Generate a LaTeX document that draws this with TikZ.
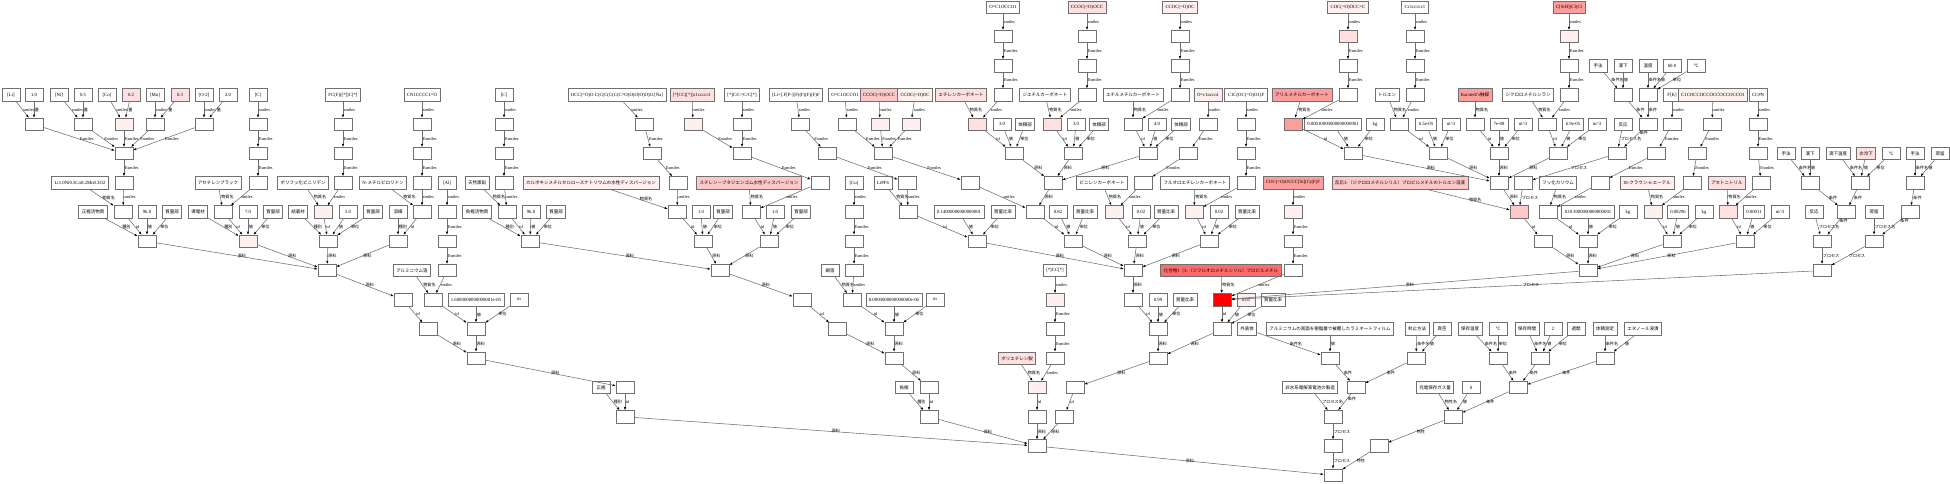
\documentclass[tikz,border=0pt]{standalone}
\usepackage{fontspec}
\setmainfont{Liberation Serif}[Scale=1.06]
\newfontfamily\jpfont{Noto Sans CJK JP}
\usepackage{tikz}
\usetikzlibrary{arrows.meta}
% Japanese characters switch to the CJK font
\XeTeXinterchartokenstate=1
\chardef\JPclass=7
\newcount\jpc
\def\setjprange#1#2{\jpc=#1 \loop\XeTeXcharclass\jpc=\JPclass\ifnum\jpc<#2 \advance\jpc by 1 \repeat}
\setjprange{"3000}{"30FF}
\setjprange{"4E00}{"9FFF}
\setjprange{"FF00}{"FFEF}
\XeTeXcharclass"2103=\JPclass
\XeTeXinterchartoks 0 \JPclass = {\jpfont}
\XeTeXinterchartoks 4095 \JPclass = {\jpfont}
\XeTeXinterchartoks \JPclass 0 = {\rmfamily}
\definecolor{KGLine}{HTML}{707070}
\definecolor{KGEdge}{HTML}{6E6E6E}
\definecolor{KGPinkA}{HTML}{FFF0F0}
\definecolor{KGPinkB}{HTML}{FFE0E0}
\definecolor{KGPinkC}{HTML}{FFC8C8}
\definecolor{KGPinkD}{HTML}{FF9C9C}
\definecolor{KGPinkE}{HTML}{FF6A6A}
\definecolor{KGRed}{HTML}{FF0000}
\newcommand\kgfont{\fontsize{4.5}{5}\selectfont}
\newcommand\kglabfont{\fontsize{4.1}{4.5}\selectfont}
\newcommand\esm{Esmiles}
\tikzset{
  kgnode/.style={draw=KGLine, line width=0.7pt, fill=white, minimum width=18pt,
    minimum height=12.5pt, inner xsep=3pt, inner ysep=1pt, font=\kgfont},
  kgpinkA/.style={kgnode, fill=KGPinkA},
  kgpinkB/.style={kgnode, fill=KGPinkB},
  kgpinkC/.style={kgnode, fill=KGPinkC},
  kgpinkD/.style={kgnode, fill=KGPinkD},
  kgpinkE/.style={kgnode, fill=KGPinkE},
  kgred/.style={kgnode, fill=KGRed},
  kgedge/.style={-{Latex[length=3pt,width=2.4pt,color=black]}, draw=KGEdge, line width=0.55pt},
  kglab/.style={midway, anchor=west, inner sep=0.6pt, font=\kglabfont}
}
\begin{document}
\begin{tikzpicture}[x=1pt, y=-29.25pt]
  \useasboundingbox (0,-0.25) rectangle (1950,16.263);

  % positive active material
  \node[kgnode] (liS) at (11,3) {[Li]};
  \node[kgnode] (liQ) at (34,3) {1.0};
  \node[kgnode] (niS) at (59,3) {[Ni]};
  \node[kgnode] (niQ) at (83,3) {0.5};
  \node[kgnode] (coS) at (107,3) {[Co]};
  \node[kgpinkB] (coQ) at (131,3) {0.2};
  \node[kgnode] (mnS) at (155,3) {[Mn]};
  \node[kgpinkB] (mnQ) at (180,3) {0.3};
  \node[kgnode] (oS) at (204,3) {[O-2]};
  \node[kgnode] (oQ) at (228,3) {2.0};
  \node[kgnode] (li4) at (34,4) {};
  \node[kgnode] (ni4) at (83,4) {};
  \node[kgpinkA] (co4) at (124,4) {};
  \node[kgnode] (mn4) at (155,4) {};
  \node[kgnode] (o4) at (204,4) {};
  \node[kgnode] (ncm5) at (124,5) {};
  \node[kgnode] (ncmName) at (80,6) {Li1.0Ni0.5Co0.2Mn0.3O2};
  \node[kgnode] (ncm6) at (124,6) {};
  \node[kgnode] (catType) at (93,7) {正極活物質};
  \node[kgnode] (ncm7) at (123,7) {};
  \node[kgnode] (catVal) at (147,7) {96.0};
  \node[kgnode] (catUnit) at (172,7) {質量部};
  \node[kgnode] (cat8) at (147,8) {};

  % conductive agent
  \node[kgnode] (cS) at (258,3) {[C]};
  \node[kgnode] (c4) at (258,4) {};
  \node[kgnode] (c5) at (258,5) {};
  \node[kgnode] (abName) at (218,6) {アセチレンブラック};
  \node[kgnode] (c6) at (258,6) {};
  \node[kgnode] (condType) at (198,7) {導電材};
  \node[kgnode] (ab7) at (223,7) {};
  \node[kgnode] (condVal) at (248,7) {7.0};
  \node[kgnode] (condUnit) at (273,7) {質量部};
  \node[kgpinkA] (cond8) at (248,8) {};

  % binder
  \node[kgnode] (pvS) at (343,3) {FC(F)([*])C[*]};
  \node[kgnode] (pv4) at (343,4) {};
  \node[kgnode] (pv5) at (343,5) {};
  \node[kgnode] (pvName) at (303,6) {ポリフッ化ビニリデン};
  \node[kgnode] (pv6) at (343,6) {};
  \node[kgnode] (bindType) at (298,7) {結着材};
  \node[kgpinkA] (pv7) at (323,7) {};
  \node[kgnode] (bindVal) at (348,7) {5.0};
  \node[kgnode] (bindUnit) at (373,7) {質量部};
  \node[kgnode] (bind8) at (328,8) {};

  % solvent NMP
  \node[kgnode] (nmpS) at (422,3) {CN1CCCC1=O};
  \node[kgnode] (nmp4) at (422,4) {};
  \node[kgnode] (nmp5) at (422,5) {};
  \node[kgnode] (nmpName) at (383,6) {N-メチルピロリドン};
  \node[kgnode] (nmp6) at (422,6) {};
  \node[kgnode] (solvType) at (398,7) {溶媒};
  \node[kgnode] (nmp7) at (422,7) {};
  \node[kgnode] (solv8) at (398,8) {};

  % aluminium foil
  \node[kgnode] (alS) at (447,6) {[Al]};
  \node[kgnode] (al7) at (447,7) {};
  \node[kgnode] (al8) at (447,8) {};
  \node[kgnode] (alName) at (412,9) {アルミニウム箔};
  \node[kgnode] (al9) at (447,9) {};
  \node[kgnode] (mix9) at (327,9) {};
  \node[kgnode] (mix10) at (403,10) {};
  \node[kgnode] (alfoil10) at (433,10) {};
  \node[kgnode] (alVal) at (476,10) {1.6000000000000001e-05};
  \node[kgnode] (alUnit) at (519,10) {m};
  \node[kgnode] (mix11) at (428,11) {};
  \node[kgnode] (foil11) at (476,11) {};
  \node[kgnode] (cat12) at (476,12) {};
  \node[kgnode] (posType) at (601,13) {正極};
  \node[kgnode] (cat13) at (625,13) {};
  \node[kgnode] (cat14) at (625,14) {};

  % negative active material
  \node[kgnode] (gS) at (504,3) {[C]};
  \node[kgnode] (g4) at (504,4) {};
  \node[kgnode] (g5) at (504,5) {};
  \node[kgnode] (gName) at (477,6) {天然黒鉛};
  \node[kgnode] (g6) at (504,6) {};
  \node[kgnode] (negType) at (477,7) {負極活物質};
  \node[kgnode] (g7) at (507,7) {};
  \node[kgnode] (negVal) at (531,7) {96.0};
  \node[kgnode] (negUnit) at (556,7) {質量部};
  \node[kgnode] (neg8) at (530,8) {};

  % CMC
  \node[kgnode] (cmcS) at (617,3) {OCC(=O)O.C(C(C(C(C(C=O)O)O)O)O)O.[Na]};
  \node[kgnode] (cmc4) at (644,4) {};
  \node[kgnode] (cmc5) at (652,5) {};
  \node[kgpinkA] (cmcName) at (591,6) {カルボキシメチルセルロースナトリウムの水性ディスパージョン};
  \node[kgnode] (cmc6) at (678,6) {};
  \node[kgnode] (cmc7) at (677,7) {};
  \node[kgnode] (cmcVal) at (701,7) {1.0};
  \node[kgnode] (cmcUnit) at (723,7) {質量部};
  \node[kgnode] (cmc8) at (703,8) {};

  % SBR
  \node[kgpinkB] (sbrS1) at (692,3) {[*]CC([*])c1ccccc1};
  \node[kgnode] (sbrS2) at (742,3) {[*]C/C=C/C[*]};
  \node[kgpinkA] (sbr4a) at (693,4) {};
  \node[kgnode] (sbr4b) at (742,4) {};
  \node[kgnode] (sbr5) at (742,5) {};
  \node[kgpinkC] (sbrName) at (749,6) {スチレン－ブタジエンゴム水性ディスパージョン};
  \node[kgnode] (sbr6) at (820,6) {};
  \node[kgnode] (sbr7) at (751,7) {};
  \node[kgnode] (sbrVal) at (775,7) {1.0};
  \node[kgnode] (sbrUnit) at (801,7) {質量部};
  \node[kgnode] (sbr8) at (769,8) {};

  % copper foil
  \node[kgnode] (cuS) at (854,6) {[Cu]};
  \node[kgnode] (cu7) at (854,7) {};
  \node[kgnode] (cu8) at (854,8) {};
  \node[kgnode] (cuName) at (830,9) {銅箔};
  \node[kgnode] (cu9) at (854,9) {};
  \node[kgnode] (nmix9) at (720,9) {};
  \node[kgnode] (nmix10) at (802,10) {};
  \node[kgnode] (cufoil10) at (852,10) {};
  \node[kgnode] (cuVal) at (894,10) {8.0000000000000000e-06};
  \node[kgnode] (cuUnit) at (935,10) {m};
  \node[kgnode] (nmix11) at (837,11) {};
  \node[kgnode] (cufoil11) at (894,11) {};
  \node[kgnode] (neg12) at (894,12) {};
  \node[kgnode] (negEType) at (904,13) {負極};
  \node[kgnode] (neg13) at (929,13) {};
  \node[kgnode] (neg14) at (929,14) {};

  % LiPF6
  \node[kgnode] (lpS) at (796,3) {[Li+].F[P-](F)(F)(F)(F)F};
  \node[kgnode] (lp4) at (800,4) {};
  \node[kgnode] (lp5) at (827,5) {};
  \node[kgnode] (lpName) at (883,6) {LiPF6};
  \node[kgnode] (lp6) at (907,6) {};
  \node[kgnode] (lp7) at (908,7) {};
  \node[kgnode] (lpVal) at (959,7) {0.14000000000000001};
  \node[kgnode] (lpUnit) at (1003,7) {質量比率};
  \node[kgnode] (lp8) at (977,8) {};

  % solvent mixture
  \node[kgnode] (ecS2) at (845,3) {O=C1OCCO1};
  \node[kgpinkC] (deS2) at (879,3) {CCOC(=O)OCC};
  \node[kgpinkA] (emS2) at (915,3) {CCOC(=O)OC};
  \node[kgnode] (ec4b) at (847,4) {};
  \node[kgpinkA] (de4b) at (880,4) {};
  \node[kgpinkA] (em4b) at (911,4) {};
  \node[kgnode] (solv5) at (883,5) {};
  \node[kgnode] (solv6) at (970,6) {};
  \node[kgnode] (ecS) at (1003,0) {O=C1OCCO1};
  \node[kgpinkB] (deS) at (1087,0) {CCOC(=O)OCC};
  \node[kgpinkA] (emS) at (1180,0) {CCOC(=O)OC};
  \node[kgnode] (ec1) at (1003,1) {};
  \node[kgnode] (de1) at (1087,1) {};
  \node[kgnode] (em1) at (1180,1) {};
  \node[kgnode] (ec2) at (1003,2) {};
  \node[kgnode] (de2) at (1087,2) {};
  \node[kgnode] (em2) at (1180,2) {};
  \node[kgpinkB] (ecName) at (961,3) {エチレンカーボネート};
  \node[kgnode] (ec3) at (1003,3) {};
  \node[kgnode] (deName) at (1045,3) {ジエチルカーボネート};
  \node[kgnode] (de3) at (1087,3) {};
  \node[kgnode] (emName) at (1133,3) {エチルメチルカーボネート};
  \node[kgnode] (em3) at (1180,3) {};
  \node[kgpinkB] (ec4) at (977,4) {};
  \node[kgnode] (ecVal) at (1002,4) {3.0};
  \node[kgnode] (ecUnit) at (1025,4) {体積部};
  \node[kgpinkB] (de4) at (1052,4) {};
  \node[kgnode] (deVal) at (1076,4) {3.0};
  \node[kgnode] (deUnit) at (1099,4) {体積部};
  \node[kgnode] (em4) at (1133,4) {};
  \node[kgnode] (emVal) at (1157,4) {4.0};
  \node[kgnode] (emUnit) at (1181,4) {体積部};
  \node[kgnode] (ec5) at (1014,5) {};
  \node[kgnode] (de5) at (1073,5) {};
  \node[kgnode] (em5) at (1148,5) {};
  \node[kgnode] (sm6) at (1053,6) {};
  \node[kgnode] (sm7) at (1035,7) {};
  \node[kgnode] (svVal) at (1058,7) {0.82};
  \node[kgnode] (svUnit) at (1085,7) {質量比率};
  \node[kgnode] (sm8) at (1073,8) {};

  % VC and FEC
  \node[kgpinkA] (vcS) at (1208,3) {O=c1occo1};
  \node[kgnode] (vc4) at (1208,4) {};
  \node[kgnode] (vc5) at (1188,5) {};
  \node[kgnode] (vcName) at (1102,6) {ビニレンカーボネート};
  \node[kgnode] (vc6) at (1143,6) {};
  \node[kgpinkA] (vc7) at (1114,7) {};
  \node[kgnode] (vcVal) at (1141,7) {0.02};
  \node[kgnode] (vcUnit) at (1166,7) {質量比率};
  \node[kgnode] (vc8) at (1137,8) {};
  \node[kgnode] (fecS) at (1246,3) {C1C(OC(=O)O1)F};
  \node[kgnode] (fec4) at (1246,4) {};
  \node[kgnode] (fec5) at (1246,5) {};
  \node[kgnode] (fecName) at (1195,6) {フルオロエチレンカーボネート};
  \node[kgnode] (fec6) at (1246,6) {};
  \node[kgpinkA] (fec7) at (1194,7) {};
  \node[kgnode] (fecVal) at (1219,7) {0.02};
  \node[kgnode] (fecUnit) at (1247,7) {質量比率};
  \node[kgnode] (fec8) at (1209,8) {};

  % electrolyte
  \node[kgnode] (el9) at (1133,9) {};
  \node[kgnode] (el10) at (1133,10) {};
  \node[kgnode] (elVal) at (1158,10) {0.99};
  \node[kgnode] (elUnit) at (1185,10) {質量比率};
  \node[kgnode] (el11) at (1158,11) {};
  \node[kgpinkE] (addName) at (1221,9) {化合物1（3-（ジフルオロメチルシリル）プロピルメチル};
  \node[kgred] (add10) at (1222,10) {};
  \node[kgpinkA] (addVal) at (1246,10) {0.01};
  \node[kgnode] (addUnit) at (1273,10) {質量比率};
  \node[kgnode] (add11) at (1222,11) {};
  \node[kgnode] (el12) at (1158,12) {};
  \node[kgnode] (el13) at (1075,13) {};
  \node[kgnode] (el14) at (1064,14) {};

  % separator
  \node[kgnode] (peS) at (1055,9) {[*]CC[*]};
  \node[kgpinkA] (pe10) at (1055,10) {};
  \node[kgnode] (pe11) at (1055,11) {};
  \node[kgpinkB] (peName) at (1017,12) {ポリエチレン製};
  \node[kgnode] (pe12) at (1055,12) {};
  \node[kgpinkA] (pe13) at (1037,13) {};
  \node[kgnode] (pe14) at (1037,14) {};
  \node[kgnode] (cell15) at (1037,15) {};
  \node[kgnode] (final16) at (1333,16) {};

  % additive synthesis, step 1
  \node[kgpinkA] (amcS) at (1348,0) {COC(=O)OCC=C};
  \node[kgpinkB] (amc1) at (1348,1) {};
  \node[kgnode] (amc2) at (1348,2) {};
  \node[kgpinkD] (amcName) at (1302,3) {アリルメチルカーボネート};
  \node[kgnode] (amc3) at (1348,3) {};
  \node[kgpinkD] (amc4) at (1293,4) {};
  \node[kgnode] (amcVal) at (1333,4) {0.00010000000000000001};
  \node[kgnode] (amcUnit) at (1375,4) {kg};
  \node[kgnode] (amc5) at (1353,5) {};
  \node[kgnode] (tolS) at (1415,0) {Cc1ccccc1};
  \node[kgnode] (tol1) at (1415,1) {};
  \node[kgnode] (tol2) at (1415,2) {};
  \node[kgnode] (tolName) at (1387,3) {トルエン};
  \node[kgnode] (tol3) at (1415,3) {};
  \node[kgnode] (tol4) at (1399,4) {};
  \node[kgnode] (tolVal) at (1426,4) {6.5e-05};
  \node[kgnode] (tolUnit) at (1451,4) {m\textasciicircum 3};
  \node[kgnode] (tol5) at (1438,5) {};
  \node[kgpinkD] (kaName) at (1475,3) {Karstedt's触媒};
  \node[kgnode] (ka4) at (1475,4) {};
  \node[kgnode] (kaVal) at (1499,4) {7e-08};
  \node[kgnode] (kaUnit) at (1523,4) {m\textasciicircum 3};
  \node[kgnode] (ka5) at (1499,5) {};
  \node[kgpinkD] (dcS) at (1569,0) {C[SiH](Cl)Cl};
  \node[kgpinkA] (dc1) at (1569,1) {};
  \node[kgnode] (dc2) at (1569,2) {};
  \node[kgnode] (dcName) at (1528,3) {ジクロロメチルシラン};
  \node[kgnode] (dc3) at (1569,3) {};
  \node[kgnode] (dc4) at (1547,4) {};
  \node[kgnode] (dcVal) at (1573,4) {6.9e-05};
  \node[kgnode] (dcUnit) at (1597,4) {m\textasciicircum 3};
  \node[kgnode] (dc5) at (1558,5) {};
  \node[kgnode] (r1Key1) at (1598,2) {手法};
  \node[kgnode] (r1Val1) at (1623,2) {滴下};
  \node[kgnode] (r1Key2) at (1648,2) {温度};
  \node[kgnode] (r1Val2) at (1672,2) {60.0};
  \node[kgnode] (r1Unit2) at (1696,2) {℃};
  \node[kgnode] (r1c1) at (1623,3) {};
  \node[kgnode] (r1c2) at (1648,3) {};
  \node[kgnode] (r1Name) at (1623,4) {反応};
  \node[kgnode] (r1cond) at (1648,4) {};
  \node[kgnode] (r1proc) at (1617,5) {};
  \node[kgnode] (int6) at (1499,6) {};
  \node[kgnode] (r1p6) at (1523,6) {};
  \node[kgpinkC] (intName) at (1400,6) {反応3-（ジクロロメチルシリル）プロピルメチルのトルエン溶液};
  \node[kgpinkC] (int7) at (1519,7) {};
  \node[kgnode] (int8) at (1543,8) {};

  % additive synthesis, step 2
  \node[kgnode] (kfS) at (1672,3) {F[K]};
  \node[kgnode] (kf4) at (1672,4) {};
  \node[kgnode] (kf5) at (1656,5) {};
  \node[kgnode] (kfName) at (1558,6) {フッ化カリウム};
  \node[kgnode] (kf6) at (1600,6) {};
  \node[kgnode] (kf7) at (1548,7) {};
  \node[kgnode] (kfVal) at (1588,7) {0.013000000000000001};
  \node[kgnode] (kfUnit) at (1628,7) {kg};
  \node[kgnode] (kf8) at (1588,8) {};
  \node[kgpinkA] (crS) at (1713,3) {C1COCCOCCOCCOCCOCCO1};
  \node[kgnode] (cr4) at (1712,4) {};
  \node[kgnode] (cr5) at (1697,5) {};
  \node[kgpinkA] (crName) at (1647,6) {18-クラウン-6-エーテル};
  \node[kgnode] (cr6) at (1692,6) {};
  \node[kgpinkA] (cr7) at (1653,7) {};
  \node[kgnode] (crVal) at (1678,7) {0.00296};
  \node[kgnode] (crUnit) at (1704,7) {kg};
  \node[kgnode] (cr8) at (1672,8) {};
  \node[kgnode] (acS) at (1758,3) {CC\#N};
  \node[kgnode] (ac4) at (1758,4) {};
  \node[kgnode] (ac5) at (1758,5) {};
  \node[kgpinkB] (acName) at (1727,6) {アセトニトリル};
  \node[kgnode] (ac6) at (1761,6) {};
  \node[kgpinkB] (ac7) at (1728,7) {};
  \node[kgnode] (acVal) at (1754,7) {0.00011};
  \node[kgnode] (acUnit) at (1780,7) {m\textasciicircum 3};
  \node[kgnode] (ac8) at (1745,8) {};
  \node[kgnode] (r2Key1) at (1786,5) {手法};
  \node[kgnode] (r2Val1) at (1810,5) {滴下};
  \node[kgnode] (r2Key2) at (1838,5) {滴下温度};
  \node[kgpinkB] (r2Val2) at (1866,5) {氷冷下};
  \node[kgnode] (r2Unit2) at (1891,5) {℃};
  \node[kgnode] (r3Key) at (1915,5) {手法};
  \node[kgnode] (r3Val) at (1940,5) {蒸留};
  \node[kgnode] (r2c1) at (1810,6) {};
  \node[kgnode] (r2c2) at (1860,6) {};
  \node[kgnode] (r3c) at (1915,6) {};
  \node[kgnode] (r2Name) at (1814,7) {反応};
  \node[kgnode] (r2cond) at (1846,7) {};
  \node[kgnode] (r3Name) at (1874,7) {蒸留};
  \node[kgnode] (r3cond) at (1910,7) {};
  \node[kgnode] (r2proc) at (1822,8) {};
  \node[kgnode] (r3proc) at (1874,8) {};
  \node[kgnode] (r23) at (1822,9) {};
  \node[kgnode] (prod9) at (1588,9) {};
  \node[kgpinkD] (addS) at (1293,6) {COC(=O)OCCC[Si](C)(F)F};
  \node[kgpinkA] (addS7) at (1293,7) {};
  \node[kgnode] (addS8) at (1293,8) {};
  \node[kgnode] (addS9) at (1293,9) {};

  % cell manufacture and evaluation
  \node[kgnode] (bKey1) at (1247,11) {外装体};
  \node[kgnode] (bVal1) at (1330,11) {アルミニウムの両面を樹脂層で被覆したラミネートフィルム};
  \node[kgnode] (bKey2) at (1417,11) {封止方法};
  \node[kgnode] (bVal2) at (1442,11) {真空};
  \node[kgnode] (sKey1) at (1470,11) {保存温度};
  \node[kgnode] (sUnit1) at (1498,11) {℃};
  \node[kgnode] (sKey2) at (1527,11) {保存時間};
  \node[kgnode] (sVal2) at (1553,11) {2};
  \node[kgnode] (sUnit2) at (1576,11) {週間};
  \node[kgnode] (mKey) at (1605,11) {体積測定};
  \node[kgnode] (mVal) at (1643,11) {エタノール浸漬};
  \node[kgnode] (bc1) at (1330,12) {};
  \node[kgnode] (bc2) at (1416,12) {};
  \node[kgnode] (sc1) at (1498,12) {};
  \node[kgnode] (sc2) at (1540,12) {};
  \node[kgnode] (mc) at (1605,12) {};
  \node[kgnode] (bName) at (1310,13) {非水系電解液電池の製造};
  \node[kgnode] (bcond) at (1356,13) {};
  \node[kgnode] (gasName) at (1435,13) {充電保存ガス量};
  \node[kgnode] (gasVal) at (1471,13) {0};
  \node[kgnode] (scond) at (1518,13) {};
  \node[kgnode] (bproc) at (1333,14) {};
  \node[kgnode] (gas14) at (1453,14) {};
  \node[kgnode] (bproc15) at (1333,15) {};
  \node[kgnode] (gas15) at (1379,15) {};

  % connectors: positive electrode
  \draw[kgedge] (liS) -- node[kglab]{smiles} (li4);
  \draw[kgedge] (liQ) -- node[kglab]{量} (li4);
  \draw[kgedge] (niS) -- node[kglab]{smiles} (ni4);
  \draw[kgedge] (niQ) -- node[kglab]{量} (ni4);
  \draw[kgedge] (coS) -- node[kglab]{smiles} (co4);
  \draw[kgedge] (coQ) -- node[kglab]{量} (co4);
  \draw[kgedge] (mnS) -- node[kglab]{smiles} (mn4);
  \draw[kgedge] (mnQ) -- node[kglab]{量} (mn4);
  \draw[kgedge] (oS) -- node[kglab]{smiles} (o4);
  \draw[kgedge] (oQ) -- node[kglab]{量} (o4);
  \draw[kgedge] (li4) -- node[kglab]{\esm} (ncm5);
  \draw[kgedge] (ni4) -- node[kglab]{\esm} (ncm5);
  \draw[kgedge] (co4) -- node[kglab]{\esm} (ncm5);
  \draw[kgedge] (mn4) -- node[kglab]{\esm} (ncm5);
  \draw[kgedge] (o4) -- node[kglab]{\esm} (ncm5);
  \draw[kgedge] (ncm5) -- node[kglab]{\esm} (ncm6);
  \draw[kgedge] (ncmName) -- node[kglab]{物質名} (ncm7);
  \draw[kgedge] (ncm6) -- node[kglab]{smiles} (ncm7);
  \draw[kgedge] (catType) -- node[kglab]{種別} (cat8);
  \draw[kgedge] (ncm7) -- node[kglab]{id} (cat8);
  \draw[kgedge] (catVal) -- node[kglab]{値} (cat8);
  \draw[kgedge] (catUnit) -- node[kglab]{単位} (cat8);
  \draw[kgedge] (cS) -- node[kglab]{smiles} (c4);
  \draw[kgedge] (c4) -- node[kglab]{\esm} (c5);
  \draw[kgedge] (c5) -- node[kglab]{\esm} (c6);
  \draw[kgedge] (abName) -- node[kglab]{物質名} (ab7);
  \draw[kgedge] (c6) -- node[kglab]{smiles} (ab7);
  \draw[kgedge] (condType) -- node[kglab]{種別} (cond8);
  \draw[kgedge] (ab7) -- node[kglab]{id} (cond8);
  \draw[kgedge] (condVal) -- node[kglab]{値} (cond8);
  \draw[kgedge] (condUnit) -- node[kglab]{単位} (cond8);
  \draw[kgedge] (pvS) -- node[kglab]{smiles} (pv4);
  \draw[kgedge] (pv4) -- node[kglab]{\esm} (pv5);
  \draw[kgedge] (pv5) -- node[kglab]{\esm} (pv6);
  \draw[kgedge] (pvName) -- node[kglab]{物質名} (pv7);
  \draw[kgedge] (pv6) -- node[kglab]{smiles} (pv7);
  \draw[kgedge] (bindType) -- node[kglab]{種別} (bind8);
  \draw[kgedge] (pv7) -- node[kglab]{id} (bind8);
  \draw[kgedge] (bindVal) -- node[kglab]{値} (bind8);
  \draw[kgedge] (bindUnit) -- node[kglab]{単位} (bind8);
  \draw[kgedge] (nmpS) -- node[kglab]{smiles} (nmp4);
  \draw[kgedge] (nmp4) -- node[kglab]{\esm} (nmp5);
  \draw[kgedge] (nmp5) -- node[kglab]{\esm} (nmp6);
  \draw[kgedge] (nmpName) -- node[kglab]{物質名} (nmp7);
  \draw[kgedge] (nmp6) -- node[kglab]{smiles} (nmp7);
  \draw[kgedge] (solvType) -- node[kglab]{種別} (solv8);
  \draw[kgedge] (nmp7) -- node[kglab]{id} (solv8);
  \draw[kgedge] (alS) -- node[kglab]{smiles} (al7);
  \draw[kgedge] (al7) -- node[kglab]{\esm} (al8);
  \draw[kgedge] (al8) -- node[kglab]{\esm} (al9);
  \draw[kgedge] (alName) -- node[kglab]{物質名} (alfoil10);
  \draw[kgedge] (al9) -- node[kglab]{smiles} (alfoil10);
  \draw[kgedge] (cat8) -- node[kglab]{原料} (mix9);
  \draw[kgedge] (cond8) -- node[kglab]{原料} (mix9);
  \draw[kgedge] (bind8) -- node[kglab]{原料} (mix9);
  \draw[kgedge] (solv8) -- node[kglab]{原料} (mix9);
  \draw[kgedge] (mix9) -- node[kglab]{原料} (mix10);
  \draw[kgedge] (mix10) -- node[kglab]{id} (mix11);
  \draw[kgedge] (alfoil10) -- node[kglab]{id} (foil11);
  \draw[kgedge] (alVal) -- node[kglab]{値} (foil11);
  \draw[kgedge] (alUnit) -- node[kglab]{単位} (foil11);
  \draw[kgedge] (mix11) -- node[kglab]{原料} (cat12);
  \draw[kgedge] (foil11) -- node[kglab]{原料} (cat12);
  \draw[kgedge] (cat12) -- node[kglab]{原料} (cat13);
  \draw[kgedge] (posType) -- node[kglab]{種別} (cat14);
  \draw[kgedge] (cat13) -- node[kglab]{id} (cat14);

  % connectors: negative electrode
  \draw[kgedge] (gS) -- node[kglab]{smiles} (g4);
  \draw[kgedge] (g4) -- node[kglab]{\esm} (g5);
  \draw[kgedge] (g5) -- node[kglab]{\esm} (g6);
  \draw[kgedge] (gName) -- node[kglab]{物質名} (g7);
  \draw[kgedge] (g6) -- node[kglab]{smiles} (g7);
  \draw[kgedge] (negType) -- node[kglab]{種別} (neg8);
  \draw[kgedge] (g7) -- node[kglab]{id} (neg8);
  \draw[kgedge] (negVal) -- node[kglab]{値} (neg8);
  \draw[kgedge] (negUnit) -- node[kglab]{単位} (neg8);
  \draw[kgedge] (cmcS) -- node[kglab]{smiles} (cmc4);
  \draw[kgedge] (cmc4) -- node[kglab]{\esm} (cmc5);
  \draw[kgedge] (cmc5) -- node[kglab]{\esm} (cmc6);
  \draw[kgedge] (cmcName) -- node[kglab]{物質名} (cmc7);
  \draw[kgedge] (cmc6) -- node[kglab]{smiles} (cmc7);
  \draw[kgedge] (cmc7) -- node[kglab]{id} (cmc8);
  \draw[kgedge] (cmcVal) -- node[kglab]{値} (cmc8);
  \draw[kgedge] (cmcUnit) -- node[kglab]{単位} (cmc8);
  \draw[kgedge] (sbrS1) -- node[kglab]{smiles} (sbr4a);
  \draw[kgedge] (sbrS2) -- node[kglab]{smiles} (sbr4b);
  \draw[kgedge] (sbr4a) -- node[kglab]{\esm} (sbr5);
  \draw[kgedge] (sbr4b) -- node[kglab]{\esm} (sbr5);
  \draw[kgedge] (sbr5) -- node[kglab]{\esm} (sbr6);
  \draw[kgedge] (sbrName) -- node[kglab]{物質名} (sbr7);
  \draw[kgedge] (sbr6) -- node[kglab]{smiles} (sbr7);
  \draw[kgedge] (sbr7) -- node[kglab]{id} (sbr8);
  \draw[kgedge] (sbrVal) -- node[kglab]{値} (sbr8);
  \draw[kgedge] (sbrUnit) -- node[kglab]{単位} (sbr8);
  \draw[kgedge] (cuS) -- node[kglab]{smiles} (cu7);
  \draw[kgedge] (cu7) -- node[kglab]{\esm} (cu8);
  \draw[kgedge] (cu8) -- node[kglab]{\esm} (cu9);
  \draw[kgedge] (cuName) -- node[kglab]{物質名} (cufoil10);
  \draw[kgedge] (cu9) -- node[kglab]{smiles} (cufoil10);
  \draw[kgedge] (neg8) -- node[kglab]{原料} (nmix9);
  \draw[kgedge] (cmc8) -- node[kglab]{原料} (nmix9);
  \draw[kgedge] (sbr8) -- node[kglab]{原料} (nmix9);
  \draw[kgedge] (nmix9) -- node[kglab]{原料} (nmix10);
  \draw[kgedge] (nmix10) -- node[kglab]{id} (nmix11);
  \draw[kgedge] (cufoil10) -- node[kglab]{id} (cufoil11);
  \draw[kgedge] (cuVal) -- node[kglab]{値} (cufoil11);
  \draw[kgedge] (cuUnit) -- node[kglab]{単位} (cufoil11);
  \draw[kgedge] (nmix11) -- node[kglab]{原料} (neg12);
  \draw[kgedge] (cufoil11) -- node[kglab]{原料} (neg12);
  \draw[kgedge] (neg12) -- node[kglab]{原料} (neg13);
  \draw[kgedge] (negEType) -- node[kglab]{種別} (neg14);
  \draw[kgedge] (neg13) -- node[kglab]{id} (neg14);

  % connectors: electrolyte
  \draw[kgedge] (lpS) -- node[kglab]{smiles} (lp4);
  \draw[kgedge] (lp4) -- node[kglab]{\esm} (lp5);
  \draw[kgedge] (lp5) -- node[kglab]{\esm} (lp6);
  \draw[kgedge] (lpName) -- node[kglab]{物質名} (lp7);
  \draw[kgedge] (lp6) -- node[kglab]{smiles} (lp7);
  \draw[kgedge] (lp7) -- node[kglab]{id} (lp8);
  \draw[kgedge] (lpVal) -- node[kglab]{値} (lp8);
  \draw[kgedge] (lpUnit) -- node[kglab]{単位} (lp8);
  \draw[kgedge] (ecS2) -- node[kglab]{smiles} (ec4b);
  \draw[kgedge] (deS2) -- node[kglab]{smiles} (de4b);
  \draw[kgedge] (emS2) -- node[kglab]{smiles} (em4b);
  \draw[kgedge] (ec4b) -- node[kglab]{\esm} (solv5);
  \draw[kgedge] (de4b) -- node[kglab]{\esm} (solv5);
  \draw[kgedge] (em4b) -- node[kglab]{\esm} (solv5);
  \draw[kgedge] (solv5) -- node[kglab]{\esm} (solv6);
  \draw[kgedge] (ecS) -- node[kglab]{smiles} (ec1);
  \draw[kgedge] (ec1) -- node[kglab]{\esm} (ec2);
  \draw[kgedge] (ec2) -- node[kglab]{\esm} (ec3);
  \draw[kgedge] (deS) -- node[kglab]{smiles} (de1);
  \draw[kgedge] (de1) -- node[kglab]{\esm} (de2);
  \draw[kgedge] (de2) -- node[kglab]{\esm} (de3);
  \draw[kgedge] (emS) -- node[kglab]{smiles} (em1);
  \draw[kgedge] (em1) -- node[kglab]{\esm} (em2);
  \draw[kgedge] (em2) -- node[kglab]{\esm} (em3);
  \draw[kgedge] (ecName) -- node[kglab]{物質名} (ec4);
  \draw[kgedge] (ec3) -- node[kglab]{smiles} (ec4);
  \draw[kgedge] (deName) -- node[kglab]{物質名} (de4);
  \draw[kgedge] (de3) -- node[kglab]{smiles} (de4);
  \draw[kgedge] (emName) -- node[kglab]{物質名} (em4);
  \draw[kgedge] (em3) -- node[kglab]{smiles} (em4);
  \draw[kgedge] (ec4) -- node[kglab]{id} (ec5);
  \draw[kgedge] (ecVal) -- node[kglab]{値} (ec5);
  \draw[kgedge] (ecUnit) -- node[kglab]{単位} (ec5);
  \draw[kgedge] (de4) -- node[kglab]{id} (de5);
  \draw[kgedge] (deVal) -- node[kglab]{値} (de5);
  \draw[kgedge] (deUnit) -- node[kglab]{単位} (de5);
  \draw[kgedge] (em4) -- node[kglab]{id} (em5);
  \draw[kgedge] (emVal) -- node[kglab]{値} (em5);
  \draw[kgedge] (emUnit) -- node[kglab]{単位} (em5);
  \draw[kgedge] (ec5) -- node[kglab]{原料} (sm6);
  \draw[kgedge] (de5) -- node[kglab]{原料} (sm6);
  \draw[kgedge] (em5) -- node[kglab]{原料} (sm6);
  \draw[kgedge] (solv6) -- node[kglab]{smiles} (sm7);
  \draw[kgedge] (sm6) -- node[kglab]{原料} (sm7);
  \draw[kgedge] (sm7) -- node[kglab]{id} (sm8);
  \draw[kgedge] (svVal) -- node[kglab]{値} (sm8);
  \draw[kgedge] (svUnit) -- node[kglab]{単位} (sm8);
  \draw[kgedge] (vcS) -- node[kglab]{smiles} (vc4);
  \draw[kgedge] (vc4) -- node[kglab]{\esm} (vc5);
  \draw[kgedge] (vc5) -- node[kglab]{\esm} (vc6);
  \draw[kgedge] (vcName) -- node[kglab]{物質名} (vc7);
  \draw[kgedge] (vc6) -- node[kglab]{smiles} (vc7);
  \draw[kgedge] (vc7) -- node[kglab]{id} (vc8);
  \draw[kgedge] (vcVal) -- node[kglab]{値} (vc8);
  \draw[kgedge] (vcUnit) -- node[kglab]{単位} (vc8);
  \draw[kgedge] (fecS) -- node[kglab]{smiles} (fec4);
  \draw[kgedge] (fec4) -- node[kglab]{\esm} (fec5);
  \draw[kgedge] (fec5) -- node[kglab]{\esm} (fec6);
  \draw[kgedge] (fecName) -- node[kglab]{物質名} (fec7);
  \draw[kgedge] (fec6) -- node[kglab]{smiles} (fec7);
  \draw[kgedge] (fec7) -- node[kglab]{id} (fec8);
  \draw[kgedge] (fecVal) -- node[kglab]{値} (fec8);
  \draw[kgedge] (fecUnit) -- node[kglab]{単位} (fec8);
  \draw[kgedge] (lp8) -- node[kglab]{原料} (el9);
  \draw[kgedge] (sm8) -- node[kglab]{原料} (el9);
  \draw[kgedge] (vc8) -- node[kglab]{原料} (el9);
  \draw[kgedge] (fec8) -- node[kglab]{原料} (el9);
  \draw[kgedge] (el9) -- node[kglab]{原料} (el10);
  \draw[kgedge] (el10) -- node[kglab]{id} (el11);
  \draw[kgedge] (elVal) -- node[kglab]{値} (el11);
  \draw[kgedge] (elUnit) -- node[kglab]{単位} (el11);
  \draw[kgedge] (addName) -- node[kglab]{物質名} (add10);
  \draw[kgedge] (addS9) -- node[kglab]{smiles} (add10);
  \draw[kgedge] (prod9) -- node[kglab]{原料} (add10);
  \draw[kgedge] (r23) -- node[kglab]{プロセス} (add10);
  \draw[kgedge] (add10) -- node[kglab]{id} (add11);
  \draw[kgedge] (addVal) -- node[kglab]{値} (add11);
  \draw[kgedge] (addUnit) -- node[kglab]{単位} (add11);
  \draw[kgedge] (el11) -- node[kglab]{原料} (el12);
  \draw[kgedge] (add11) -- node[kglab]{原料} (el12);
  \draw[kgedge] (el12) -- node[kglab]{原料} (el13);
  \draw[kgedge] (el13) -- node[kglab]{id} (el14);
  \draw[kgedge] (peS) -- node[kglab]{smiles} (pe10);
  \draw[kgedge] (pe10) -- node[kglab]{\esm} (pe11);
  \draw[kgedge] (pe11) -- node[kglab]{\esm} (pe12);
  \draw[kgedge] (peName) -- node[kglab]{物質名} (pe13);
  \draw[kgedge] (pe12) -- node[kglab]{smiles} (pe13);
  \draw[kgedge] (pe13) -- node[kglab]{id} (pe14);
  \draw[kgedge] (cat14) -- node[kglab]{原料} (cell15);
  \draw[kgedge] (neg14) -- node[kglab]{原料} (cell15);
  \draw[kgedge] (pe14) -- node[kglab]{原料} (cell15);
  \draw[kgedge] (el14) -- node[kglab]{原料} (cell15);
  \draw[kgedge] (cell15) -- node[kglab]{原料} (final16);
  \draw[kgedge] (bproc15) -- node[kglab]{プロセス} (final16);
  \draw[kgedge] (gas15) -- node[kglab]{特性} (final16);

  % connectors: additive synthesis
  \draw[kgedge] (amcS) -- node[kglab]{smiles} (amc1);
  \draw[kgedge] (amc1) -- node[kglab]{\esm} (amc2);
  \draw[kgedge] (amc2) -- node[kglab]{\esm} (amc3);
  \draw[kgedge] (amcName) -- node[kglab]{物質名} (amc4);
  \draw[kgedge] (amc3) -- node[kglab]{smiles} (amc4);
  \draw[kgedge] (amc4) -- node[kglab]{id} (amc5);
  \draw[kgedge] (amcVal) -- node[kglab]{値} (amc5);
  \draw[kgedge] (amcUnit) -- node[kglab]{単位} (amc5);
  \draw[kgedge] (tolS) -- node[kglab]{smiles} (tol1);
  \draw[kgedge] (tol1) -- node[kglab]{\esm} (tol2);
  \draw[kgedge] (tol2) -- node[kglab]{\esm} (tol3);
  \draw[kgedge] (tolName) -- node[kglab]{物質名} (tol4);
  \draw[kgedge] (tol3) -- node[kglab]{smiles} (tol4);
  \draw[kgedge] (tol4) -- node[kglab]{id} (tol5);
  \draw[kgedge] (tolVal) -- node[kglab]{値} (tol5);
  \draw[kgedge] (tolUnit) -- node[kglab]{単位} (tol5);
  \draw[kgedge] (kaName) -- node[kglab]{物質名} (ka4);
  \draw[kgedge] (ka4) -- node[kglab]{id} (ka5);
  \draw[kgedge] (kaVal) -- node[kglab]{値} (ka5);
  \draw[kgedge] (kaUnit) -- node[kglab]{単位} (ka5);
  \draw[kgedge] (dcS) -- node[kglab]{smiles} (dc1);
  \draw[kgedge] (dc1) -- node[kglab]{\esm} (dc2);
  \draw[kgedge] (dc2) -- node[kglab]{\esm} (dc3);
  \draw[kgedge] (dcName) -- node[kglab]{物質名} (dc4);
  \draw[kgedge] (dc3) -- node[kglab]{smiles} (dc4);
  \draw[kgedge] (dc4) -- node[kglab]{id} (dc5);
  \draw[kgedge] (dcVal) -- node[kglab]{値} (dc5);
  \draw[kgedge] (dcUnit) -- node[kglab]{単位} (dc5);
  \draw[kgedge] (r1Key1) -- node[kglab]{条件名} (r1c1);
  \draw[kgedge] (r1Val1) -- node[kglab]{値} (r1c1);
  \draw[kgedge] (r1Key2) -- node[kglab]{条件名} (r1c2);
  \draw[kgedge] (r1Val2) -- node[kglab]{値} (r1c2);
  \draw[kgedge] (r1Unit2) -- node[kglab]{単位} (r1c2);
  \draw[kgedge] (r1c1) -- node[kglab]{条件} (r1cond);
  \draw[kgedge] (r1c2) -- node[kglab]{条件} (r1cond);
  \draw[kgedge] (r1Name) -- node[kglab]{プロセス名} (r1proc);
  \draw[kgedge] (r1cond) -- node[kglab, pos=0.12]{条件} (r1proc);
  \draw[kgedge] (r1proc) -- node[kglab]{プロセス} (r1p6);
  \draw[kgedge] (amc5) -- node[kglab]{原料} (int6);
  \draw[kgedge] (tol5) -- node[kglab]{原料} (int6);
  \draw[kgedge] (ka5) -- node[kglab]{原料} (int6);
  \draw[kgedge] (dc5) -- node[kglab]{原料} (int6);
  \draw[kgedge] (intName) -- node[kglab]{物質名} (int7);
  \draw[kgedge] (int6) -- node[kglab]{原料} (int7);
  \draw[kgedge] (r1p6) -- node[kglab]{プロセス} (int7);
  \draw[kgedge] (int7) -- node[kglab]{id} (int8);
  \draw[kgedge] (kfS) -- node[kglab]{smiles} (kf4);
  \draw[kgedge] (kf4) -- node[kglab]{\esm} (kf5);
  \draw[kgedge] (kf5) -- node[kglab]{\esm} (kf6);
  \draw[kgedge] (kfName) -- node[kglab]{物質名} (kf7);
  \draw[kgedge] (kf6) -- node[kglab]{smiles} (kf7);
  \draw[kgedge] (kf7) -- node[kglab]{id} (kf8);
  \draw[kgedge] (kfVal) -- node[kglab]{値} (kf8);
  \draw[kgedge] (kfUnit) -- node[kglab]{単位} (kf8);
  \draw[kgedge] (crS) -- node[kglab]{smiles} (cr4);
  \draw[kgedge] (cr4) -- node[kglab]{\esm} (cr5);
  \draw[kgedge] (cr5) -- node[kglab]{\esm} (cr6);
  \draw[kgedge] (crName) -- node[kglab]{物質名} (cr7);
  \draw[kgedge] (cr6) -- node[kglab]{smiles} (cr7);
  \draw[kgedge] (cr7) -- node[kglab]{id} (cr8);
  \draw[kgedge] (crVal) -- node[kglab]{値} (cr8);
  \draw[kgedge] (crUnit) -- node[kglab]{単位} (cr8);
  \draw[kgedge] (acS) -- node[kglab]{smiles} (ac4);
  \draw[kgedge] (ac4) -- node[kglab]{\esm} (ac5);
  \draw[kgedge] (ac5) -- node[kglab]{\esm} (ac6);
  \draw[kgedge] (acName) -- node[kglab]{物質名} (ac7);
  \draw[kgedge] (ac6) -- node[kglab]{smiles} (ac7);
  \draw[kgedge] (ac7) -- node[kglab]{id} (ac8);
  \draw[kgedge] (acVal) -- node[kglab]{値} (ac8);
  \draw[kgedge] (acUnit) -- node[kglab]{単位} (ac8);
  \draw[kgedge] (r2Key1) -- node[kglab]{条件名} (r2c1);
  \draw[kgedge] (r2Val1) -- node[kglab]{値} (r2c1);
  \draw[kgedge] (r2Key2) -- node[kglab]{条件名} (r2c2);
  \draw[kgedge] (r2Val2) -- node[kglab]{値} (r2c2);
  \draw[kgedge] (r2Unit2) -- node[kglab]{単位} (r2c2);
  \draw[kgedge] (r3Key) -- node[kglab]{条件名} (r3c);
  \draw[kgedge] (r3Val) -- node[kglab]{値} (r3c);
  \draw[kgedge] (r2c1) -- node[kglab]{条件} (r2cond);
  \draw[kgedge] (r2c2) -- node[kglab]{条件} (r2cond);
  \draw[kgedge] (r3c) -- node[kglab]{条件} (r3cond);
  \draw[kgedge] (r2Name) -- node[kglab]{プロセス名} (r2proc);
  \draw[kgedge] (r2cond) -- node[kglab, pos=0.15]{条件} (r2proc);
  \draw[kgedge] (r3Name) -- node[kglab]{プロセス名} (r3proc);
  \draw[kgedge] (r3cond) -- node[kglab, pos=0.12]{条件} (r3proc);
  \draw[kgedge] (r2proc) -- node[kglab]{プロセス} (r23);
  \draw[kgedge] (r3proc) -- node[kglab]{プロセス} (r23);
  \draw[kgedge] (int8) -- node[kglab]{原料} (prod9);
  \draw[kgedge] (kf8) -- node[kglab]{原料} (prod9);
  \draw[kgedge] (cr8) -- node[kglab]{原料} (prod9);
  \draw[kgedge] (ac8) -- node[kglab]{原料} (prod9);
  \draw[kgedge] (addS) -- node[kglab]{smiles} (addS7);
  \draw[kgedge] (addS7) -- node[kglab]{\esm} (addS8);
  \draw[kgedge] (addS8) -- node[kglab]{\esm} (addS9);

  % connectors: cell manufacture and evaluation
  \draw[kgedge] (bKey1) -- node[kglab]{条件名} (bc1);
  \draw[kgedge] (bVal1) -- node[kglab]{値} (bc1);
  \draw[kgedge] (bKey2) -- node[kglab]{条件名} (bc2);
  \draw[kgedge] (bVal2) -- node[kglab]{値} (bc2);
  \draw[kgedge] (sKey1) -- node[kglab]{条件名} (sc1);
  \draw[kgedge] (sUnit1) -- node[kglab]{単位} (sc1);
  \draw[kgedge] (sKey2) -- node[kglab]{条件名} (sc2);
  \draw[kgedge] (sVal2) -- node[kglab]{値} (sc2);
  \draw[kgedge] (sUnit2) -- node[kglab]{単位} (sc2);
  \draw[kgedge] (mKey) -- node[kglab]{条件名} (mc);
  \draw[kgedge] (mVal) -- node[kglab]{値} (mc);
  \draw[kgedge] (bc1) -- node[kglab]{条件} (bcond);
  \draw[kgedge] (bc2) -- node[kglab]{条件} (bcond);
  \draw[kgedge] (sc1) -- node[kglab]{条件} (scond);
  \draw[kgedge] (sc2) -- node[kglab]{条件} (scond);
  \draw[kgedge] (mc) -- node[kglab]{条件} (scond);
  \draw[kgedge] (bName) -- node[kglab]{プロセス名} (bproc);
  \draw[kgedge] (bcond) -- node[kglab, pos=0.3]{条件} (bproc);
  \draw[kgedge] (gasName) -- node[kglab]{物性名} (gas14);
  \draw[kgedge] (gasVal) -- node[kglab]{値} (gas14);
  \draw[kgedge] (scond) -- node[kglab]{条件} (gas14);
  \draw[kgedge] (bproc) -- node[kglab]{プロセス} (bproc15);
  \draw[kgedge] (gas14) -- node[kglab]{物性} (gas15);
\end{tikzpicture}
\end{document}
